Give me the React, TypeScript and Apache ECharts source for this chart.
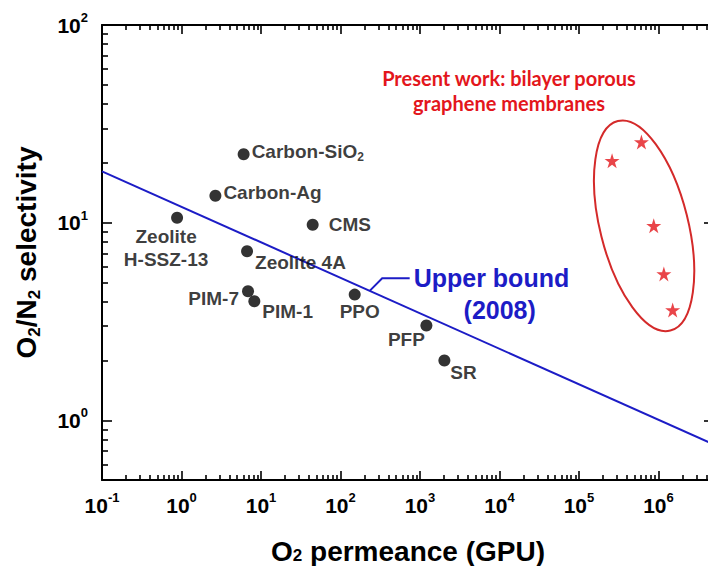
import React, { useEffect, useRef } from 'react';
import * as echarts from 'echarts';

// Reference membranes: O2 permeance (GPU) and O2/N2 selectivity
const materials = ['Carbon-SiO2', 'Carbon-Ag', 'Zeolite H-SSZ-13', 'CMS', 'Zeolite 4A', 'PIM-7', 'PIM-1', 'PPO', 'PFP', 'SR'];
const materialPermeance = [6.05, 2.67, 0.88, 44.7, 6.68, 6.87, 8.25, 151, 1205, 2028];
const materialSelectivity = [22.2, 13.7, 10.6, 9.77, 7.17, 4.5, 4.01, 4.33, 3.02, 2.01];

// Present work: bilayer porous graphene membranes
const graphenePermeance = [2.61e5, 6.11e5, 8.73e5, 1.17e6, 1.51e6];
const grapheneSelectivity = [20.6, 25.6, 9.66, 5.51, 3.62];

// Robeson upper bound (2008), a straight line on log-log axes
const upperBoundPermeance = [0.1, 5e6];
const upperBoundSelectivity = [18.2, 0.755];

// Decade exponents that carry a "10^n" tick label
const xTickExponents = [-1, 0, 1, 2, 3, 4, 5, 6];
const yTickExponents = [0, 1, 2];

const X_MIN = 0.1;
const X_MAX = 5e6;
const Y_MIN = 0.5;
const Y_MAX = 100;

const FONT = '"Liberation Sans", Arial, Helvetica, sans-serif';
const BLUE = '#1c1cc6';
const RED = '#e3161c';

const log10 = (v: number) => Math.log10(v);

// minor ticks at 2..9 x 10^e, in log10 units, strictly inside the range
function minorTicks(min: number, max: number): number[] {
  const out: number[] = [];
  for (let e = Math.floor(log10(min)); e <= Math.ceil(log10(max)); e++) {
    for (let m = 2; m <= 9; m++) {
      const v = m * Math.pow(10, e);
      if (v > min && v < max) out.push(log10(v));
    }
  }
  return out;
}

const labelLayout: Record<string, { align: string; offset: number[] }> = {
  'Carbon-SiO2': { align: 'left', offset: [8, -3] },
  'Carbon-Ag': { align: 'left', offset: [8, -3] },
  'Zeolite H-SSZ-13': { align: 'center', offset: [-11, 30] },
  CMS: { align: 'left', offset: [16, 0] },
  'Zeolite 4A': { align: 'left', offset: [8, 11] },
  'PIM-7': { align: 'right', offset: [-9, 7] },
  'PIM-1': { align: 'left', offset: [8, 10] },
  PPO: { align: 'center', offset: [5, 17] },
  PFP: { align: 'center', offset: [-20, 14] },
  SR: { align: 'left', offset: [6, 12] },
};

function labelText(name: string): string {
  if (name === 'Carbon-SiO2') return 'Carbon-SiO{sub|2}';
  return name.replace(' H-', '\nH-');
}

const STAR =
  'path://M50,0 L61.2,34.5 L97.6,34.5 L68.2,55.9 L79.4,90.5 L50,69.1 L20.6,90.5 L31.8,55.9 L2.4,34.5 L38.8,34.5 Z';

const tickRich = {
  b: { fontFamily: FONT, fontWeight: 'bold', fontSize: 21, lineHeight: 28, color: '#000' },
  s: { fontFamily: FONT, fontWeight: 'bold', fontSize: 13, lineHeight: 10, verticalAlign: 'top', color: '#000' },
};

const xNameRich = {
  t: { fontFamily: FONT, fontWeight: 'bold', fontSize: 28, lineHeight: 26, color: '#000' },
  sub: { fontFamily: FONT, fontWeight: 'bold', fontSize: 17, lineHeight: 18, verticalAlign: 'bottom', color: '#000' },
};

const yNameRich = {
  t: { fontFamily: FONT, fontWeight: 'bold', fontSize: 28, lineHeight: 34, color: '#000' },
  sub: { fontFamily: FONT, fontWeight: 'bold', fontSize: 17, lineHeight: 21, verticalAlign: 'bottom', color: '#000' },
};

const tickFormatter = (v: number) => `{b|10}{s|${Math.round(v)}}`;

export default function App() {
  const ref = useRef<HTMLDivElement>(null);

  useEffect(() => {
    if (!ref.current) return;
    const chart = echarts.init(ref.current, undefined, { renderer: 'svg' });

    const xMajor = xTickExponents.slice();
    const yMajor = yTickExponents.slice();
    const xMinor = minorTicks(X_MIN, X_MAX);
    const yMinor = minorTicks(Y_MIN, Y_MAX);
    const lx = [log10(X_MIN), log10(X_MAX)];
    const ly = [log10(Y_MIN), log10(Y_MAX)];

    // the plot frame runs a few pixels past the right edge of the canvas
    const box = { left: 102, top: 25, width: 612, height: 455, outerBoundsMode: 'none', containLabel: false };
    const tickLine = { color: '#000', width: 1.6 };

    const frameAxis = (gridIndex: number, position: string, values: number[], len: number, isX: boolean, extra: any = {}) => ({
      gridIndex,
      type: 'value',
      position,
      min: isX ? lx[0] : ly[0],
      max: isX ? lx[1] : ly[1],
      axisLine: { show: gridIndex === 1, onZero: false, lineStyle: { color: '#000', width: 2 } },
      axisTick: { show: true, inside: true, length: len, customValues: values, lineStyle: tickLine },
      axisLabel: { show: false },
      splitLine: { show: false },
      ...extra,
    });

    chart.setOption({
      animation: false,
      backgroundColor: '#fff',
      grid: [box, box, box],
      xAxis: [
        { gridIndex: 0, type: 'log', logBase: 10, min: X_MIN, max: X_MAX, show: false },
        frameAxis(1, 'bottom', xMajor, 9, true, {
          axisLabel: { show: true, customValues: xMajor, formatter: tickFormatter, rich: tickRich, margin: 11 },
          name: '{t|O}{sub|2}{t| permeance (GPU)}',
          nameLocation: 'middle',
          nameGap: 58,
          nameTextStyle: { rich: xNameRich },
        }),
        frameAxis(1, 'top', xMajor, 9, true),
        frameAxis(2, 'bottom', xMinor, 5, true),
        frameAxis(2, 'top', xMinor, 5, true),
      ],
      yAxis: [
        { gridIndex: 0, type: 'log', logBase: 10, min: Y_MIN, max: Y_MAX, show: false },
        frameAxis(1, 'left', yMajor, 10, false, {
          axisLabel: { show: true, customValues: yMajor, formatter: tickFormatter, rich: tickRich, margin: 14 },
          name: '{t|O}{sub|2}{t|/N}{sub|2}{t| selectivity}',
          nameLocation: 'middle',
          nameGap: 59,
          nameTextStyle: { rich: yNameRich },
        }),
        frameAxis(1, 'right', yMajor, 10, false),
        frameAxis(2, 'left', yMinor, 6, false),
        frameAxis(2, 'right', yMinor, 6, false),
      ],
      series: [
        {
          name: 'Upper bound (2008)',
          type: 'line',
          xAxisIndex: 0,
          yAxisIndex: 0,
          symbol: 'none',
          silent: true,
          lineStyle: { color: BLUE, width: 2 },
          data: upperBoundPermeance.map((x, i) => [x, upperBoundSelectivity[i]]),
          z: 2,
        },
        {
          name: 'Membranes',
          type: 'scatter',
          xAxisIndex: 0,
          yAxisIndex: 0,
          symbol: 'circle',
          symbolSize: 12,
          itemStyle: { color: '#000' },
          z: 3,
          data: materials.map((name, i) => {
            const lay = labelLayout[name];
            return {
              name,
              value: [materialPermeance[i], materialSelectivity[i]],
              label: {
                show: true,
                position: 'inside',
                align: lay.align,
                verticalAlign: 'middle',
                offset: lay.offset,
                formatter: labelText(name),
                fontFamily: FONT,
                fontWeight: 'bold',
                fontSize: 19,
                lineHeight: 23,
                color: '#0a0a0a',
                rich: {
                  sub: { fontFamily: FONT, fontWeight: 'bold', fontSize: 12, lineHeight: 9, verticalAlign: 'bottom', color: '#0a0a0a' },
                },
              },
            };
          }),
        },
        {
          name: 'Bilayer porous graphene',
          type: 'scatter',
          xAxisIndex: 0,
          yAxisIndex: 0,
          symbol: STAR,
          symbolSize: 15,
          itemStyle: { color: RED },
          z: 3,
          data: graphenePermeance.map((x, i) => [x, grapheneSelectivity[i]]),
        },
      ],
    });

    // annotations placed through the data coordinate system
    const toPx = (x: number, y: number) => chart.convertToPixel({ gridIndex: 0 }, [x, y]) as number[];
    const ubAt = (x: number) => {
      const t = (log10(x) - log10(upperBoundPermeance[0])) / (log10(upperBoundPermeance[1]) - log10(upperBoundPermeance[0]));
      return Math.pow(10, log10(upperBoundSelectivity[0]) + t * (log10(upperBoundSelectivity[1]) - log10(upperBoundSelectivity[0])));
    };
    const anchorX = 233;
    const [ax, ay] = toPx(anchorX, ubAt(anchorX));
    const [ex, ey] = toPx(6.6e5, 9.65);

    const redFont = 'bold 20px Lato, "Open Sans", sans-serif';

    chart.setOption({
      graphic: [
        {
          type: 'polyline',
          silent: true,
          shape: { points: [[ax, ay], [ax + 12.5, ay - 12.6], [ax + 40, ay - 12.6]] },
          style: { stroke: BLUE, lineWidth: 2, fill: 'none' },
        },
        {
          type: 'text',
          x: ax + 44,
          y: ay - 12.6,
          style: { text: 'Upper bound', fill: BLUE, font: `bold 25px ${FONT}`, align: 'left', verticalAlign: 'middle' },
        },
        {
          type: 'text',
          x: ax + 130,
          y: ay + 19,
          style: { text: '(2008)', fill: BLUE, font: `bold 25px ${FONT}`, align: 'center', verticalAlign: 'middle' },
        },
        {
          type: 'ellipse',
          silent: true,
          x: ex,
          y: ey,
          rotation: 0.245,
          shape: { cx: 0, cy: 0, rx: 44, ry: 108 },
          style: { fill: 'none', stroke: '#d42a2a', lineWidth: 2 },
        },
        {
          type: 'text',
          x: 509,
          y: 78,
          style: { text: 'Present work: bilayer porous', fill: RED, font: redFont, align: 'center', verticalAlign: 'middle' },
        },
        {
          type: 'text',
          x: 509,
          y: 103,
          style: { text: 'graphene membranes', fill: RED, font: redFont, align: 'center', verticalAlign: 'middle' },
        },
      ],
    });

    return () => chart.dispose();
  }, []);

  return <div ref={ref} style={{ position: 'absolute', left: 0, top: 0, width: 708, height: 566 }} />;
}
